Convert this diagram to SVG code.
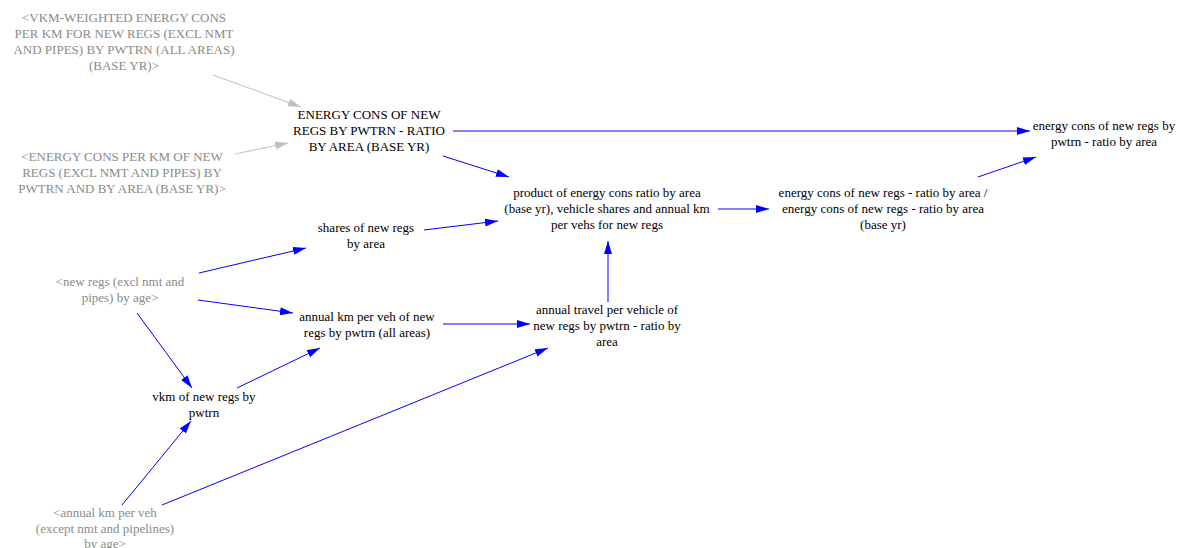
<svg xmlns="http://www.w3.org/2000/svg" width="1183" height="548" viewBox="0 0 1183 548">
<style>
text{font-family:"Liberation Serif","Times New Roman",serif;font-size:13px;text-anchor:middle;fill:#000}
.g text{fill:#8a8a8a}
.c line{stroke:#0000ff;stroke-width:1;fill:none}
.c line.s{stroke:#c0c0c0}
</style>
<defs>
<marker id="ab" markerUnits="userSpaceOnUse" markerWidth="14" markerHeight="10" refX="13" refY="4" orient="auto"><path d="M0,0 L13,4 L0,8 z" fill="#0000ff"/></marker>
<marker id="ag" markerUnits="userSpaceOnUse" markerWidth="14" markerHeight="10" refX="13" refY="4" orient="auto"><path d="M0,0 L13,4 L0,8 z" fill="#c0c0c0"/></marker>
</defs>
<rect width="1183" height="548" fill="#fff"/>
<g class="c" id="connectors">
<line class="s" x1="213" y1="75" x2="301" y2="107" marker-end="url(#ag)"/>
<line class="s" x1="235" y1="154" x2="288" y2="143" marker-end="url(#ag)"/>
<line x1="453" y1="131" x2="1030" y2="131" marker-end="url(#ab)"/>
<line x1="443" y1="156" x2="509" y2="177" marker-end="url(#ab)"/>
<line x1="718" y1="209" x2="769" y2="209" marker-end="url(#ab)"/>
<line x1="978" y1="177" x2="1036" y2="157" marker-end="url(#ab)"/>
<line x1="424" y1="230" x2="498" y2="221" marker-end="url(#ab)"/>
<line x1="608" y1="302" x2="608" y2="241" marker-end="url(#ab)"/>
<line x1="199" y1="273" x2="306" y2="248" marker-end="url(#ab)"/>
<line x1="198" y1="300" x2="293" y2="313" marker-end="url(#ab)"/>
<line x1="137" y1="313" x2="192" y2="388" marker-end="url(#ab)"/>
<line x1="443" y1="324" x2="530" y2="324" marker-end="url(#ab)"/>
<line x1="237" y1="388" x2="320" y2="348" marker-end="url(#ab)"/>
<line x1="122" y1="505" x2="191" y2="421" marker-end="url(#ab)"/>
<line x1="162" y1="505" x2="548" y2="348" marker-end="url(#ab)"/>
</g>
<g id="vkm-weighted" class="g">
<text x="124" y="22">&lt;VKM-WEIGHTED ENERGY CONS</text>
<text x="124" y="38">PER KM FOR NEW REGS (EXCL NMT</text>
<text x="124" y="54">AND PIPES) BY PWTRN (ALL AREAS)</text>
<text x="124" y="70">(BASE YR)&gt;</text>
</g>
<g id="energy-cons-per-km" class="g">
<text x="122" y="161">&lt;ENERGY CONS PER KM OF NEW</text>
<text x="122" y="177">REGS (EXCL NMT AND PIPES) BY</text>
<text x="122" y="193">PWTRN AND BY AREA (BASE YR)&gt;</text>
</g>
<g id="energy-ratio-base">
<text x="369" y="119">ENERGY CONS OF NEW</text>
<text x="369" y="135">REGS BY PWTRN - RATIO</text>
<text x="369" y="151">BY AREA (BASE YR)</text>
</g>
<g id="energy-ratio">
<text x="1104" y="130">energy cons of new regs by</text>
<text x="1104" y="146">pwtrn - ratio by area</text>
</g>
<g id="product">
<text x="607" y="197">product of energy cons ratio by area</text>
<text x="607" y="213">(base yr), vehicle shares and annual km</text>
<text x="607" y="229">per vehs for new regs</text>
</g>
<g id="ratio-over-base">
<text x="883" y="197">energy cons of new regs - ratio by area /</text>
<text x="883" y="213">energy cons of new regs - ratio by area</text>
<text x="883" y="229">(base yr)</text>
</g>
<g id="shares">
<text x="366" y="232">shares of new regs</text>
<text x="366" y="248">by area</text>
</g>
<g id="new-regs" class="g">
<text x="120" y="286">&lt;new regs (excl nmt and</text>
<text x="120" y="302">pipes) by age&gt;</text>
</g>
<g id="annual-km-new">
<text x="367" y="321">annual km per veh of new</text>
<text x="367" y="337">regs by pwtrn (all areas)</text>
</g>
<g id="annual-travel">
<text x="607" y="314">annual travel per vehicle of</text>
<text x="607" y="330">new regs by pwtrn - ratio by</text>
<text x="607" y="346">area</text>
</g>
<g id="vkm">
<text x="204" y="401">vkm of new regs by</text>
<text x="204" y="417">pwtrn</text>
</g>
<g id="annual-km-age" class="g">
<text x="105" y="517">&lt;annual km per veh</text>
<text x="105" y="533">(except nmt and pipelines)</text>
<text x="105" y="548">by age&gt;</text>
</g>
</svg>
